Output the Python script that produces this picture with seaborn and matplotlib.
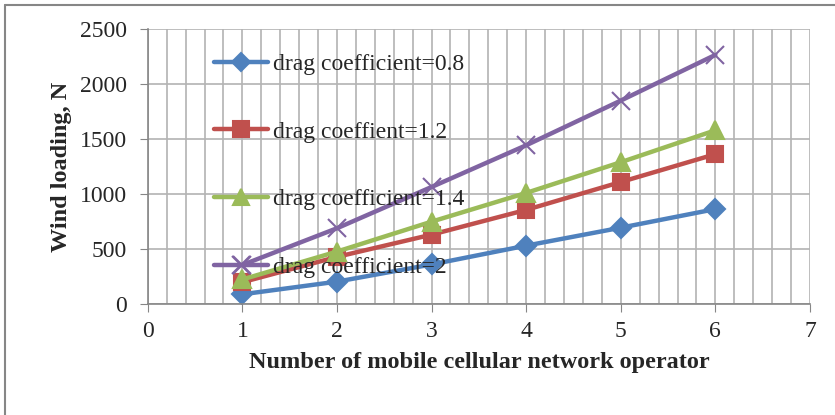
import numpy as np
import pandas as pd
import matplotlib
matplotlib.use("Agg")
import matplotlib.pyplot as plt
from matplotlib.lines import Line2D
from matplotlib.ticker import MultipleLocator
import seaborn as sns

# data
operators = [1, 2, 3, 4, 5, 6]
cd_08 = [90, 205, 361, 532, 695, 864]
cd_12 = [200, 430, 632, 857, 1110, 1363]
cd_14 = [225, 478, 750, 1011, 1290, 1580]
cd_20 = [357, 690, 1065, 1444, 1850, 2265]
labels = ["drag coefficient=0.8", "drag coeffient=1.2",
          "drag coefficient=1.4", "drag coefficient=2"]

sns.set_style("white")
plt.rcParams['font.family'] = ['Liberation Serif', 'DejaVu Serif']

colors = ["#4F81BD", "#C0504D", "#9BBB59", "#8064A2"]
markers = ["D", "s", "^", "x"]
msizes = [10, 12, 12.5, 13]
fig = plt.figure(figsize=(8.35, 4.15), dpi=100)
ax = fig.add_axes([0.177, 0.267, 0.793, 0.663])

for vals, lab, c, m, ms in zip([cd_08, cd_12, cd_14, cd_20], labels, colors, markers, msizes):
    d = pd.DataFrame({"op": operators, "load": vals})
    sns.lineplot(data=d, x="op", y="load", color=c, marker=m, label=lab,
                 linewidth=3.2, markersize=ms, markeredgewidth=1.5,
                 markeredgecolor=c, ax=ax)

ax.set_xlim(0, 7)
ax.set_ylim(0, 2500)
ax.xaxis.set_major_locator(MultipleLocator(1))
ax.xaxis.set_minor_locator(MultipleLocator(0.2))
ax.yaxis.set_major_locator(MultipleLocator(500))
ax.grid(True, which="major", color="#B3B3B3", linewidth=1.2)
ax.grid(True, which="minor", axis="x", color="#B3B3B3", linewidth=1.2)
ax.set_axisbelow(True)
for s in ["top", "right"]:
    ax.spines[s].set_visible(False)
for s in ["left", "bottom"]:
    ax.spines[s].set_color("#868686")
    ax.spines[s].set_linewidth(1.2)
ax.tick_params(axis="both", which="major", direction="out", length=6,
               color="#868686", labelsize=17)
ax.tick_params(axis="y", pad=9)
ax.tick_params(axis="x", pad=6)
ax.tick_params(axis="x", which="minor", length=0)
ax.tick_params(left=True, bottom=True)

ax.set_xlabel("Number of mobile cellular network operator",
              fontsize=17.5, fontweight="bold", labelpad=7)
ax.set_ylabel("Wind loading, N", fontsize=17.5, fontweight="bold", labelpad=6)

ax.legend(loc="upper left", bbox_to_anchor=(0.086, 0.945), frameon=False,
          fontsize=17, labelspacing=1.95, handlelength=2.3, handletextpad=0.2,
          borderaxespad=0, markerscale=0.95)

# outer chart border (only left and top edges fall inside the image)
fig.add_artist(Line2D([0.0055, 0.0055], [0.988, 0.0], color="#868686",
                      linewidth=1.5, transform=fig.transFigure))
fig.add_artist(Line2D([0.0055, 1.0], [0.988, 0.988], color="#868686",
                      linewidth=1.5, transform=fig.transFigure))

fig.savefig("out.png", dpi=100)
